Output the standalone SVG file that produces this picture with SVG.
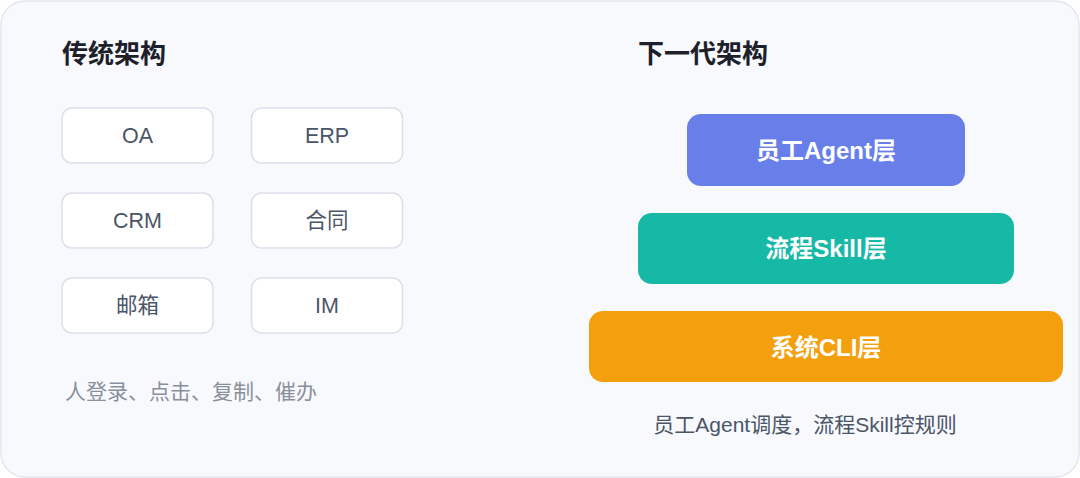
<svg xmlns="http://www.w3.org/2000/svg" width="1080" height="478" viewBox="0 0 1080 478">
<style>
text{font-family:"Liberation Sans","Noto Sans CJK SC",sans-serif}
.title{font-size:26px;font-weight:700;fill:#1d1f2b}
.box{fill:#ffffff;stroke:#dcdfe9;stroke-width:1.5}
.bt{font-size:21.5px;fill:#4b5568;text-anchor:middle}
.lt{font-size:24px;font-weight:700;fill:#ffffff;text-anchor:middle}
.note{font-size:21px;fill:#8a8f9c}
</style>
<rect x="1" y="1" width="1078" height="476" rx="24" fill="#f8f9fd" stroke="#e3e6ef" stroke-width="1.5"/>
<text class="title" x="62" y="63">传统架构</text>
<text class="title" x="638" y="63">下一代架构</text>
<g id="oa"><rect class="box" x="62" y="108" width="151" height="55" rx="10"/><text class="bt" x="137.5" y="143">OA</text></g>
<g id="erp"><rect class="box" x="251.5" y="108" width="151" height="55" rx="10"/><text class="bt" x="327" y="143">ERP</text></g>
<g id="crm"><rect class="box" x="62" y="193" width="151" height="55" rx="10"/><text class="bt" x="137.5" y="228">CRM</text></g>
<g id="hetong"><rect class="box" x="251.5" y="193" width="151" height="55" rx="10"/><text class="bt" x="327" y="228">合同</text></g>
<g id="mail"><rect class="box" x="62" y="278" width="151" height="55" rx="10"/><text class="bt" x="137.5" y="313">邮箱</text></g>
<g id="im"><rect class="box" x="251.5" y="278" width="151" height="55" rx="10"/><text class="bt" x="327" y="313">IM</text></g>
<text class="note" x="65" y="399">人登录、点击、复制、催办</text>
<g id="agent"><rect x="687" y="114" width="278" height="72" rx="14" fill="#687fea"/><text class="lt" x="826" y="159">员工Agent层</text></g>
<g id="skill"><rect x="638" y="213" width="376" height="71" rx="14" fill="#16b8a6"/><text class="lt" x="826" y="257">流程Skill层</text></g>
<g id="cli"><rect x="589" y="311" width="474" height="71" rx="14" fill="#f49f0e"/><text class="lt" x="826" y="356">系统CLI层</text></g>
<g id="connectors"></g>
<text x="805" y="432" font-size="21" fill="#4b5568" text-anchor="middle">员工Agent调度，流程Skill控规则</text>
</svg>
